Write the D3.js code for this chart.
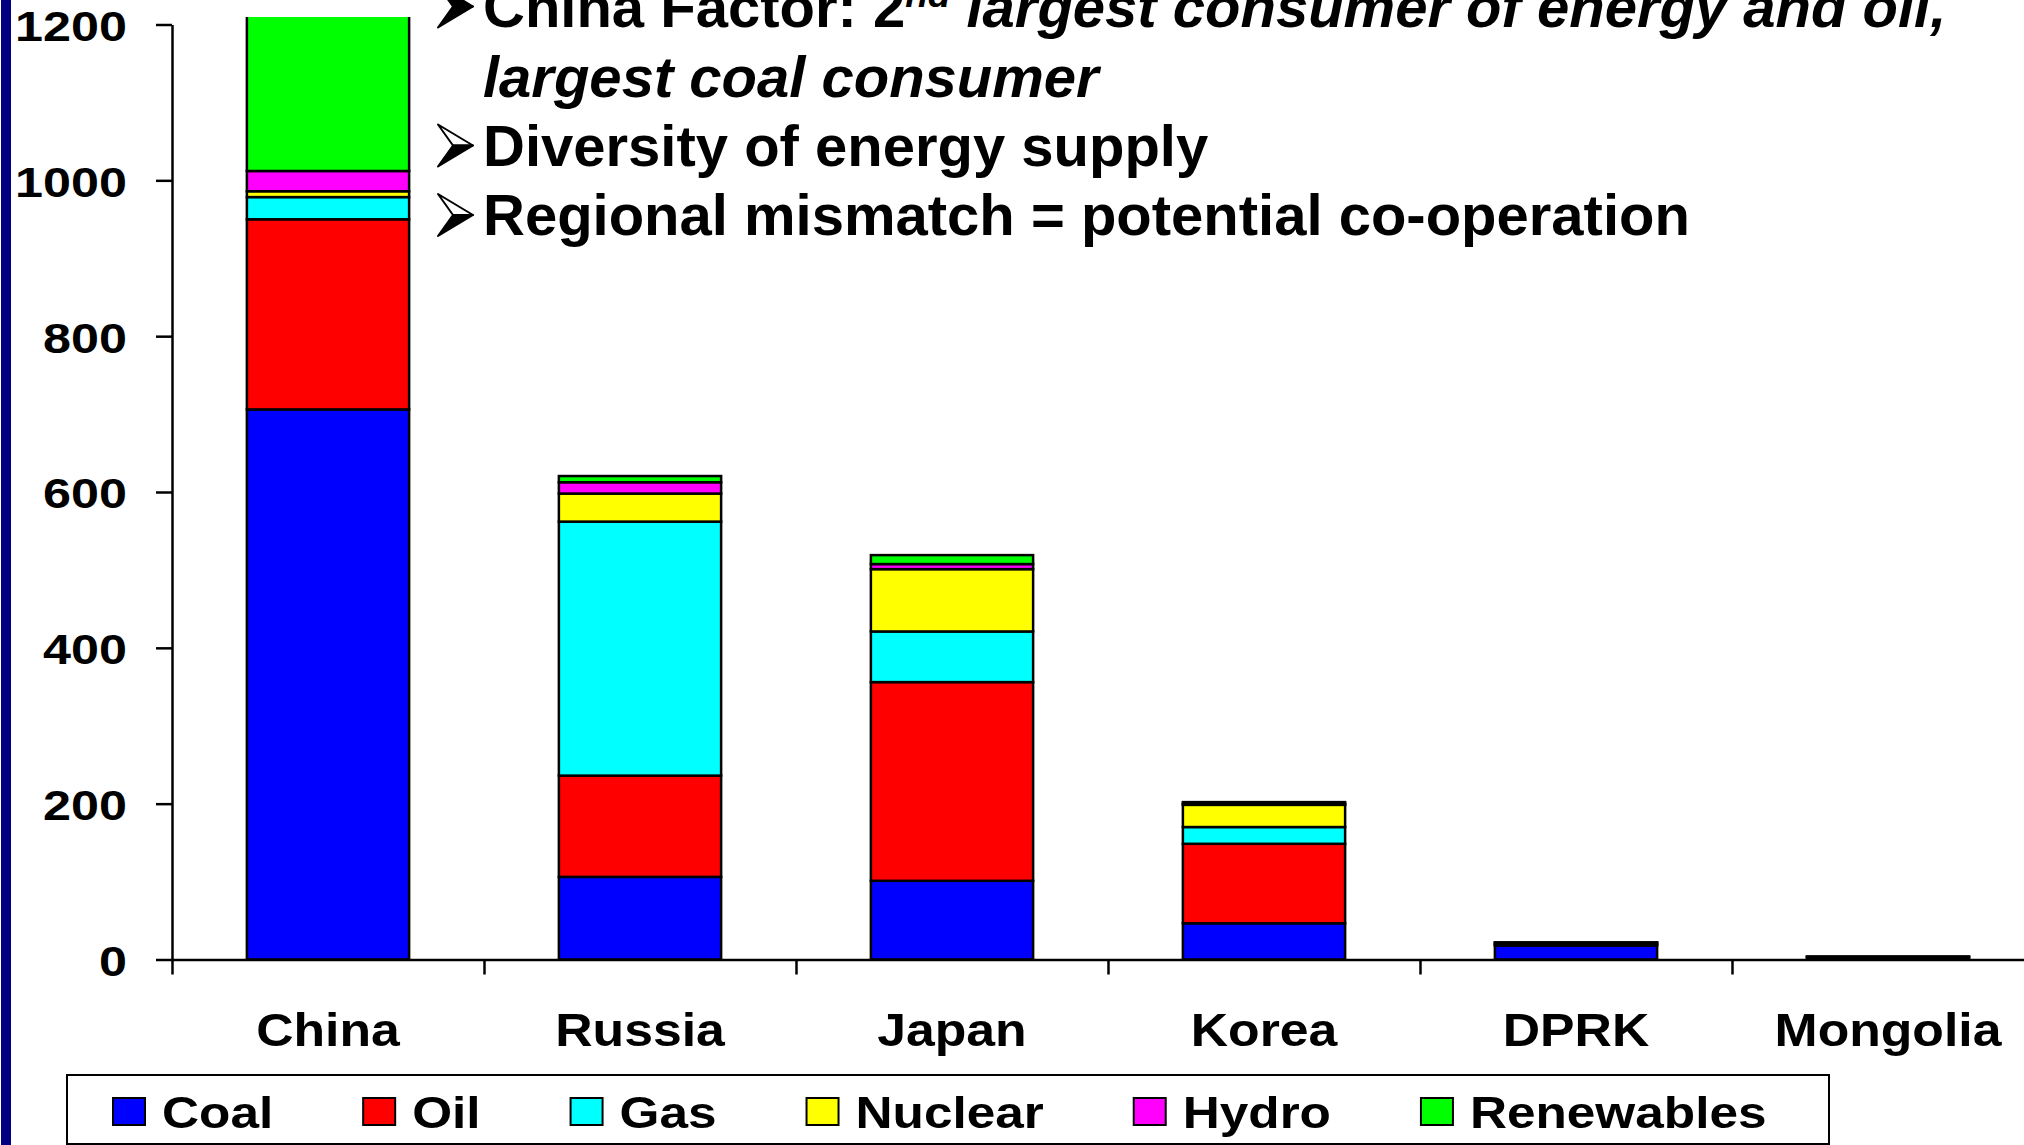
<!DOCTYPE html>
<html>
<head>
<meta charset="utf-8">
<script src="https://cdn.jsdelivr.net/npm/d3@7"></script>
<style>
  html, body { margin: 0; padding: 0; background: #fff; overflow: hidden; }
  svg { display: block; }
  text { font-family: "Liberation Sans", Arial, sans-serif; font-weight: bold; fill: #000; }
</style>
</head>
<body>
<svg id="chart" width="2024" height="1145"></svg>
<script>
// data (Mtoe, rough)
var categories = ["China", "Russia", "Japan", "Korea", "DPRK", "Mongolia"];
var coal       = [706, 106, 101, 46.5, 18, 3];
var oil        = [244, 130, 255, 102, 2, 1];
var gas        = [28.5, 326, 65, 21.5, 0, 0];
var nuclear    = [7.5, 36, 80, 28.5, 0, 0];
var hydro      = [26, 14.5, 6.5, 1.5, 1.5, 0];
var renewables = [215, 8, 11.5, 2, 0.5, 0];

var seriesNames  = ["Coal", "Oil", "Gas", "Nuclear", "Hydro", "Renewables"];
var seriesColors = ["#0000ff", "#ff0000", "#00ffff", "#ffff00", "#ff00ff", "#00ff00"];
var yTicks = [0, 200, 400, 600, 800, 1000, 1200];

var bullets = [
    [{t: "China Factor: 2", s: "normal"}, {t: "nd", s: "sup"}, {t: " largest consumer of energy and oil,", s: "italic"}],
    [{t: "largest coal consumer", s: "italic"}],
    [{t: "Diversity of energy supply", s: "normal"}],
    [{t: "Regional mismatch = potential co-operation", s: "normal"}]
];
// arrow style per line: "solid", "3d" or none
var bulletArrow = ["solid", null, "3d", "3d"];

var width = 2024, height = 1145;
var svg = d3.select("#chart");

var rows = categories.map(function (c, i) {
    return {cat: c, Coal: coal[i], Oil: oil[i], Gas: gas[i], Nuclear: nuclear[i], Hydro: hydro[i], Renewables: renewables[i]};
});

var axisX = 172, plotTop = 17;
var step = 312;

var x = d3.scaleBand()
        .domain(categories)
        .range([axisX, axisX + step * categories.length])
        .paddingInner(0.48)
        .paddingOuter(0.24);
var xEdge = d3.scaleLinear().domain([0, categories.length]).range(x.range());
var y = d3.scaleLinear().domain([0, 1200]).range([959.5, 24.5]);
var color = d3.scaleOrdinal().domain(seriesNames).range(seriesColors);

// navy strip on the left of the slide
svg.append("rect").attr("x", 1).attr("y", 0).attr("width", 10).attr("height", height).attr("fill", "#000080");

// bars
svg.append("clipPath").attr("id", "plotclip")
        .append("rect").attr("x", 0).attr("y", plotTop).attr("width", width).attr("height", height);

var stacked = d3.stack().keys(seriesNames)(rows);
svg.append("g").attr("clip-path", "url(#plotclip)")
        .selectAll("g").data(stacked).join("g")
        .attr("fill", function (d) { return color(d.key); })
        .selectAll("rect").data(function (d) { return d; }).join("rect")
        .attr("x", function (d) { return x(d.data.cat); })
        .attr("y", function (d) { return y(d[1]); })
        .attr("width", x.bandwidth())
        .attr("height", function (d) { return y(d[0]) - y(d[1]); })
        .attr("stroke", "#000")
        .attr("stroke-width", 2.5);

// y axis
var yAxis = svg.append("g")
        .attr("transform", "translate(" + axisX + ",0)")
        .call(d3.axisLeft(y).tickValues(yTicks).tickSize(16).tickSizeOuter(0).tickFormat(function (d) { return d; }));
yAxis.select(".domain").attr("stroke", "#000").attr("stroke-width", 2.5);
yAxis.selectAll(".tick line").attr("stroke", "#000").attr("stroke-width", 2.5);
yAxis.selectAll(".tick text")
        .attr("x", null)
        .attr("dy", "0.37em")
        .attr("transform", "translate(-45,0) scale(1.17,1)")
        .attr("font-size", 43)
        .attr("font-family", null)
        .attr("fill", "#000");

// x axis (ticks between categories)
var xAxis = svg.append("g")
        .attr("transform", "translate(0," + y(0) + ")")
        .call(d3.axisBottom(xEdge).ticks(categories.length).tickSize(15).tickSizeOuter(0).tickFormat(""));
xAxis.select(".domain").attr("stroke", "#000").attr("stroke-width", 2.5);
xAxis.selectAll(".tick line").attr("stroke", "#000").attr("stroke-width", 2.5);

svg.append("g").selectAll("text").data(categories).join("text")
        .attr("text-anchor", "middle")
        .attr("font-size", 47)
        .attr("transform", function (d) {
            return "translate(" + (x(d) + x.bandwidth() / 2) + ",1045.5) scale(1.1,1)";
        })
        .text(function (d) { return d; });

// legend
svg.append("rect")
        .attr("x", 67).attr("y", 1075).attr("width", 1762).attr("height", 69)
        .attr("fill", "#fff").attr("stroke", "#000").attr("stroke-width", 2);

var legendX = 113;
seriesNames.forEach(function (name) {
    var g = svg.append("g");
    g.append("rect")
            .attr("x", legendX).attr("y", 1098).attr("width", 32).attr("height", 27)
            .attr("fill", color(name)).attr("stroke", "#000").attr("stroke-width", 2);
    var t = g.append("text")
            .attr("font-size", 45)
            .attr("transform", "translate(" + (legendX + 49) + ",1127.5) scale(1.14,1)")
            .text(name);
    legendX += 49 + t.node().getComputedTextLength() * 1.14 + 90;
});

// bullet text
var bulletBase = [26.5, 96.5, 165.5, 235];
function drawArrow(kind, b) {
    var g = svg.append("g").attr("transform", "translate(438," + b + ")");
    // upper facet
    g.append("path")
            .attr("d", "M0,-41 L35,-20 L15,-20 Z")
            .attr("fill", kind === "solid" ? "#000" : "#fff")
            .attr("stroke", "#000").attr("stroke-width", 2).attr("stroke-linejoin", "round");
    // lower facet
    g.append("path")
            .attr("d", "M15,-20 L35,-20 L0,1 Z")
            .attr("fill", "#000")
            .attr("stroke", "#000").attr("stroke-width", 2).attr("stroke-linejoin", "round");
}
bullets.forEach(function (parts, i) {
    if (bulletArrow[i]) drawArrow(bulletArrow[i], bulletBase[i]);
    var t = svg.append("text")
            .attr("x", 483).attr("y", bulletBase[i])
            .attr("font-size", 58);
    parts.forEach(function (p) {
        var ts = t.append("tspan").text(p.t);
        if (p.s === "italic") ts.attr("font-style", "italic");
        if (p.s === "sup") ts.attr("font-size", 37).attr("font-style", "italic").attr("baseline-shift", "55%");
    });
});
</script>
</body>
</html>
